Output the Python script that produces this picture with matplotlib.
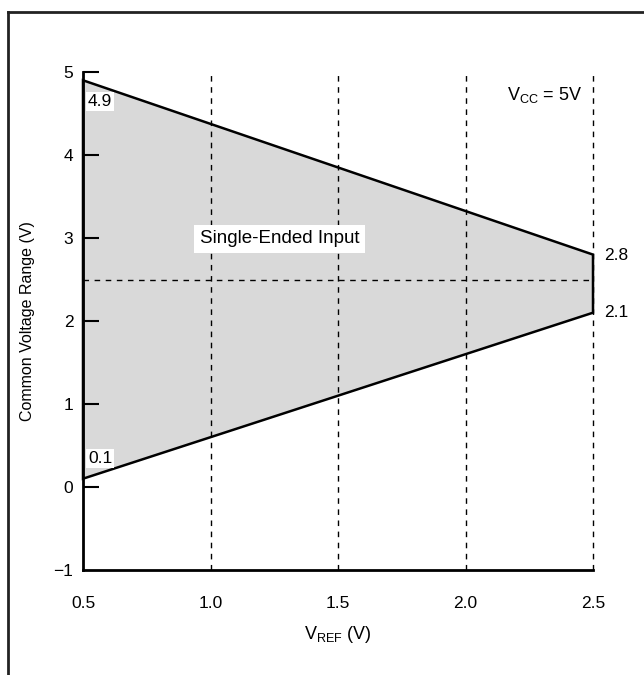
import matplotlib
matplotlib.use("Agg")
import matplotlib.pyplot as plt
from matplotlib.lines import Line2D

plt.rcParams["font.family"] = ["Liberation Sans", "DejaVu Sans"]
plt.rcParams["mathtext.fontset"] = "custom"
plt.rcParams["mathtext.rm"] = "Liberation Sans"
plt.rcParams["mathtext.it"] = "Liberation Sans"

# common-mode window vs reference voltage
vref = [0.5, 2.5]
upper = [4.9, 2.8]
lower = [0.1, 2.1]
mid_level = 2.5
grid_x = [1.0, 1.5, 2.0, 2.5]
xticks = [0.5, 1.0, 1.5, 2.0, 2.5]
xtick_labels = ["0.5", "1.0", "1.5", "2.0", "2.5"]
yticks = [-1, 0, 1, 2, 3, 4, 5]
ytick_labels = ["\u22121", "0", "1", "2", "3", "4", "5"]

fig = plt.figure(figsize=(6.44, 6.75), dpi=100)
ax = fig.add_axes([83 / 644, 1 - 570 / 675, 510 / 644, 498 / 675])
ax.set_xlim(0.5, 2.5)
ax.set_ylim(-1, 5)
ax.set_axisbelow(False)

# outline of the shaded region
px = [vref[0], vref[1], vref[1], vref[0]]
py = [upper[0], upper[1], lower[1], lower[0]]
ax.fill(px, py, facecolor="#d9d9d9", edgecolor="black", lw=1.8, zorder=2,
        clip_on=False)

for gx in grid_x:
    ax.plot([gx, gx], [-1, 5], color="black", lw=1, ls=(0, (4, 4)), zorder=3,
            clip_on=False)
ax.plot([vref[0], vref[1]], [mid_level, mid_level], color="black", lw=1,
        ls=(0, (4, 4)), zorder=3)

for side in ["top", "right"]:
    ax.spines[side].set_visible(False)
for side in ["left", "bottom"]:
    ax.spines[side].set_linewidth(2)
    ax.spines[side].set_zorder(4)

ax.set_xticks(xticks)
ax.set_xticklabels(xtick_labels)
ax.set_yticks(yticks)
ax.set_yticklabels(ytick_labels)
ax.tick_params(axis="x", length=0, pad=19, labelsize=12.5)
ax.tick_params(axis="y", direction="in", length=11.5, width=1.5, pad=7,
               labelsize=12.5)
ax.yaxis.get_major_ticks()[0].tick1line.set_visible(False)

ax.set_xlabel(r"V$_{\mathrm{REF}}$ (V)", fontsize=13, labelpad=9)
ax.set_ylabel("Common Voltage Range (V)", fontsize=11.5, labelpad=13)

box = dict(facecolor="white", edgecolor="none", pad=1.5)
ax.text(0.52, 4.64, "4.9", fontsize=12.5, ha="left", va="center", bbox=box,
        zorder=5)
ax.text(0.52, 0.34, "0.1", fontsize=12.5, ha="left", va="center", bbox=box,
        zorder=5)
ax.text(1.27, 2.99, "Single-Ended Input", fontsize=13.5, ha="center",
        va="center", bbox=dict(facecolor="white", edgecolor="none", pad=4),
        zorder=5)
ax.text(2.545, 2.79, "2.8", fontsize=12.5, ha="left", va="center")
ax.text(2.545, 2.10, "2.1", fontsize=12.5, ha="left", va="center")
ax.text(2.31, 4.72, r"V$_{\mathrm{CC}}$ = 5V", fontsize=13, ha="center",
        va="center")

# page frame
fig.add_artist(Line2D([8 / 644, 8 / 644], [0, 1 - 12 / 675], color="#222222",
                      lw=2))
fig.add_artist(Line2D([8 / 644, 1], [1 - 12 / 675, 1 - 12 / 675],
                      color="#222222", lw=2))

fig.savefig("out.png", dpi=100)
